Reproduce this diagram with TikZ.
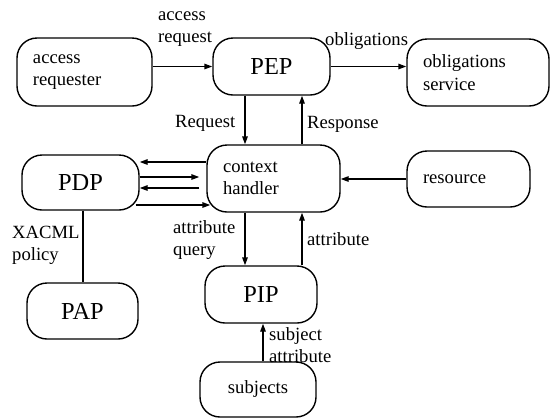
\documentclass[tikz,border=0pt]{standalone}
\usepackage{fontspec}
\setmainfont{Liberation Serif}
\usetikzlibrary{arrows.meta}
\newcommand{\lst}{\rule{0pt}{13bp}}
\begin{document}
\begin{tikzpicture}[x=1bp,y=-1bp,
  box/.style={draw, line width=1.4bp, rounded corners=20bp, inner ysep=0pt,
              font=\fontsize{18.7}{22.5}\selectfont},
  lefttext/.style={inner xsep=16bp, align=left},
  big/.style={font=\fontsize{24.5}{28}\selectfont, inner sep=0pt},
  lbl/.style={inner sep=0pt, align=left, anchor=north west,
              font=\fontsize{18.7}{22.5}\selectfont},
  arr/.style={line width=1.4bp, -{Triangle[length=8bp,width=5.5bp]}},
  ln/.style={line width=1.4bp}]
\useasboundingbox (0,0) rectangle (552,418);

% boxes
\node[box, lefttext, minimum width=135bp, minimum height=68bp, text width=103bp] (req) at (84.5,72) {access\\requester};
\node[box, big, minimum width=117bp, minimum height=57bp] (pep) at (271.5,66.5) {PEP};
\node[box, lefttext, minimum width=142bp, minimum height=67bp, text width=110bp] (obl) at (478,72.5) {obligations\\service};
\node[box, lefttext, minimum width=133bp, minimum height=67bp, text width=101bp] (ctx) at (273.5,178.5) {context\\handler};
\node[box, big, minimum width=117bp, minimum height=55bp] (pdp) at (80.5,182.5) {PDP};
\node[box, lefttext, minimum width=123bp, minimum height=56bp, text width=91bp] (res) at (468.5,179) {resource};
\node[box, big, minimum width=111bp, minimum height=56bp] (pap) at (82.5,311) {PAP};
\node[box, big, minimum width=112bp, minimum height=57bp] (pip) at (261,294.5) {PIP};
\node[box, inner xsep=0pt, minimum width=116bp, minimum height=55bp] (sub) at (258,389.5) {subjects};

% labels
\node[lbl] (laccreq) at (158,7) {\lst access\\request};
\node[lbl] (lobl) at (325,32) {\lst obligations};
\node[lbl] (lreq) at (175,114) {\lst Request};
\node[lbl] (lresp) at (307,115) {\lst Response};
\node[lbl] (lxacml) at (12,225) {\lst XACML\\policy};
\node[lbl] (lattq) at (173,220) {\lst attribute\\query};
\node[lbl] (latt) at (307,232) {\lst attribute};
\node[lbl] (lsubatt) at (269,327) {\lst subject\\attribute};

% connectors
\draw[arr] (req.east |- pep.west) -- (pep.west);
\draw[arr] (pep.east) -- (pep.east -| obl.west);
\draw[arr] ([xshift=-26.5bp]pep.south) -- ([xshift=-26.5bp]pep.south |- ctx.north);
\draw[arr] ([xshift=28.5bp]ctx.north) -- ([xshift=28.5bp]ctx.north |- pep.south);

\draw[arr] ([yshift=16.5bp]ctx.west) -- ([yshift=16.5bp]ctx.west -| pdp.east);
\draw[arr, shorten >=7bp] ([yshift=5.5bp]pdp.east) -- ([yshift=5.5bp]pdp.east -| ctx.west);
\draw[arr, shorten <=7bp] ([yshift=-5.5bp]pdp.east -| ctx.west) -- ([yshift=-5.5bp]pdp.east);
\draw[arr, shorten <=-4bp, shorten >=-4bp] ([yshift=-22.5bp]pdp.east) -- ([yshift=-22.5bp]pdp.east -| ctx.west);

\draw[arr] (res.west) -- (res.west -| ctx.east);
\draw[ln] ([xshift=2.5bp]pdp.south) -- ([xshift=2.5bp]pdp.south |- pap.north);
\draw[arr] ([xshift=-28.5bp]ctx.south) -- ([xshift=-28.5bp]ctx.south |- pip.north);
\draw[arr] ([xshift=28.5bp]ctx.south |- pip.north) -- ([xshift=28.5bp]ctx.south);
\draw[arr] ([xshift=5bp]sub.north) -- ([xshift=5bp]sub.north |- pip.south);
\end{tikzpicture}
\end{document}
